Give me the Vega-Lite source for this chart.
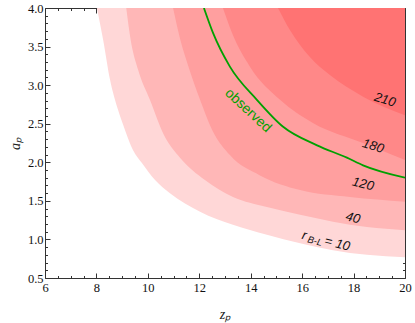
{
  "$schema": "https://vega.github.io/schema/vega-lite/v6.json",
  "width": 360,
  "height": 270,
  "autosize": "none",
  "padding": {"left": 45, "top": 8, "right": 10, "bottom": 45},
  "background": "white",
  "config": {
    "view": {"stroke": "#333333", "strokeWidth": 1},
    "axis": {"labelFont": "Liberation Serif, Times New Roman, serif", "titleFont": "Liberation Serif, Times New Roman, serif"}
  },
  "datasets": {
    "contours": [
      {"r": 10, "z": 8.02, "a": 4.0}, {"r": 10, "z": 8.26, "a": 3.59}, {"r": 10, "z": 8.53, "a": 3.07}, {"r": 10, "z": 8.84, "a": 2.68}, {"r": 10, "z": 9.11, "a": 2.42}, {"r": 10, "z": 9.42, "a": 2.16}, {"r": 10, "z": 9.77, "a": 1.99}, {"r": 10, "z": 10.28, "a": 1.77}, {"r": 10, "z": 10.86, "a": 1.6}, {"r": 10, "z": 12.03, "a": 1.36}, {"r": 10, "z": 13.31, "a": 1.19}, {"r": 10, "z": 14.63, "a": 1.06}, {"r": 10, "z": 15.92, "a": 0.95}, {"r": 10, "z": 17.2, "a": 0.86}, {"r": 10, "z": 18.52, "a": 0.8}, {"r": 10, "z": 20.0, "a": 0.77},
      {"r": 40, "z": 9.16, "a": 4.0}, {"r": 40, "z": 9.33, "a": 3.59}, {"r": 40, "z": 9.62, "a": 3.2}, {"r": 40, "z": 10.08, "a": 2.81}, {"r": 40, "z": 10.63, "a": 2.35}, {"r": 40, "z": 11.25, "a": 2.06}, {"r": 40, "z": 12.22, "a": 1.77}, {"r": 40, "z": 13.31, "a": 1.55}, {"r": 40, "z": 14.63, "a": 1.42}, {"r": 40, "z": 15.92, "a": 1.32}, {"r": 40, "z": 17.2, "a": 1.23}, {"r": 40, "z": 18.52, "a": 1.16}, {"r": 40, "z": 20.0, "a": 1.12},
      {"r": 120, "z": 10.98, "a": 4.0}, {"r": 120, "z": 11.27, "a": 3.58}, {"r": 120, "z": 11.58, "a": 3.24}, {"r": 120, "z": 12.03, "a": 2.81}, {"r": 120, "z": 12.5, "a": 2.42}, {"r": 120, "z": 13.2, "a": 2.09}, {"r": 120, "z": 14.36, "a": 1.83}, {"r": 120, "z": 15.92, "a": 1.64}, {"r": 120, "z": 17.86, "a": 1.55}, {"r": 120, "z": 20.0, "a": 1.49},
      {"r": 180, "z": 12.92, "a": 4.0}, {"r": 180, "z": 13.27, "a": 3.68}, {"r": 180, "z": 13.97, "a": 3.24}, {"r": 180, "z": 15.14, "a": 2.81}, {"r": 180, "z": 16.42, "a": 2.51}, {"r": 180, "z": 18.37, "a": 2.25}, {"r": 180, "z": 20.0, "a": 2.03},
      {"r": 210, "z": 15.06, "a": 4.0}, {"r": 210, "z": 15.53, "a": 3.71}, {"r": 210, "z": 16.31, "a": 3.36}, {"r": 210, "z": 17.08, "a": 3.13}, {"r": 210, "z": 18.37, "a": 2.85}, {"r": 210, "z": 20.0, "a": 2.61}
    ],
    "observed": [
      {"z": 12.18, "a": 4.0}, {"z": 12.53, "a": 3.68}, {"z": 13.19, "a": 3.24}, {"z": 14.24, "a": 2.81}, {"z": 15.26, "a": 2.46}, {"z": 16.58, "a": 2.22}, {"z": 17.74, "a": 2.06}, {"z": 18.37, "a": 1.96}, {"z": 20.0, "a": 1.8}
    ],
    "labels": [
      {"t": "210", "z": 19.22, "a": 2.81},
      {"t": "180", "z": 18.76, "a": 2.21},
      {"t": "120", "z": 18.37, "a": 1.72},
      {"t": "40", "z": 17.98, "a": 1.28},
      {"t": "r", "z": 16.0, "a": 1.06},
      {"t": "B-L", "z": 16.22, "a": 1.0},
      {"t": "= 10", "z": 16.88, "a": 0.985},
      {"t": "observed", "z": 13.9, "a": 2.67}
    ]
  },
  "resolve": {"axis": {"x": "independent", "y": "independent"}},
  "layer": [
    {
      "data": {"name": "contours"},
      "transform": [{"filter": "datum.r == 10"}],
      "mark": {"type": "area", "color": "#ffd7d7", "interpolate": "monotone", "clip": true},
      "encoding": {
        "x": {"field": "z", "type": "quantitative", "scale": {"domain": [6, 20], "nice": false, "zero": false},
          "axis": {"orient": "bottom", "values": [6,6.5,7,7.5,8,8.5,9,9.5,10,10.5,11,11.5,12,12.5,13,13.5,14,14.5,15,15.5,16,16.5,17,17.5,18,18.5,19,19.5,20],
            "labelExpr": "datum.value % 2 === 0 ? format(datum.value, 'd') : ''",
            "tickSize": {"condition": {"test": "datum.value % 2 === 0", "value": -5}, "value": -2.5},
            "tickColor": "#333333", "domain": false, "grid": false, "labelOverlap": false, "labelFlush": false,
            "labelFont": "Liberation Serif, Times New Roman, serif", "labelFontSize": 12.5, "labelColor": "#111111", "labelPadding": 8,
            "title": "zₚ", "titleFont": "Liberation Serif, Times New Roman, serif", "titleFontStyle": "italic", "titleFontWeight": "normal", "titleFontSize": 14, "titleColor": "#222222", "titlePadding": 11}},
        "y": {"field": "a", "type": "quantitative", "scale": {"domain": [0.5, 4], "nice": false, "zero": false},
          "axis": {"orient": "left", "values": [0.5,0.6,0.7,0.8,0.9,1.0,1.1,1.2,1.3,1.4,1.5,1.6,1.7,1.8,1.9,2.0,2.1,2.2,2.3,2.4,2.5,2.6,2.7,2.8,2.9,3.0,3.1,3.2,3.3,3.4,3.5,3.6,3.7,3.8,3.9,4.0],
            "labelExpr": "abs(datum.value*2 - round(datum.value*2)) < 0.001 ? format(datum.value, '.1f') : ''",
            "tickSize": {"condition": {"test": "abs(datum.value*2 - round(datum.value*2)) < 0.001", "value": -5}, "value": -2.5},
            "tickColor": "#333333", "domain": false, "grid": false, "labelOverlap": false, "labelFlush": false,
            "labelFont": "Liberation Serif, Times New Roman, serif", "labelFontSize": 12.5, "labelColor": "#111111", "labelPadding": 7,
            "title": "aₚ", "titleFont": "Liberation Serif, Times New Roman, serif", "titleFontStyle": "italic", "titleFontWeight": "normal", "titleFontSize": 14, "titleColor": "#222222", "titlePadding": 5}},
        "y2": {"datum": 4}
      }
    },
    {
      "data": {"name": "contours"},
      "transform": [{"filter": "datum.r == 40"}],
      "mark": {"type": "area", "color": "#ffb7b7", "interpolate": "monotone", "clip": true},
      "encoding": {"x": {"field": "z", "type": "quantitative", "axis": null}, "y": {"field": "a", "type": "quantitative", "axis": null}, "y2": {"datum": 4}}
    },
    {
      "data": {"name": "contours"},
      "transform": [{"filter": "datum.r == 120"}],
      "mark": {"type": "area", "color": "#ff9f9f", "interpolate": "monotone", "clip": true},
      "encoding": {"x": {"field": "z", "type": "quantitative", "axis": null}, "y": {"field": "a", "type": "quantitative", "axis": null}, "y2": {"datum": 4}}
    },
    {
      "data": {"name": "contours"},
      "transform": [{"filter": "datum.r == 180"}],
      "mark": {"type": "area", "color": "#ff8888", "interpolate": "monotone", "clip": true},
      "encoding": {"x": {"field": "z", "type": "quantitative", "axis": null}, "y": {"field": "a", "type": "quantitative", "axis": null}, "y2": {"datum": 4}}
    },
    {
      "data": {"name": "contours"},
      "transform": [{"filter": "datum.r == 210"}],
      "mark": {"type": "area", "color": "#ff7373", "interpolate": "monotone", "clip": true},
      "encoding": {"x": {"field": "z", "type": "quantitative", "axis": null}, "y": {"field": "a", "type": "quantitative", "axis": null}, "y2": {"datum": 4}}
    },
    {
      "data": {"name": "observed"},
      "mark": {"type": "line", "color": "#00a000", "strokeWidth": 1.8, "interpolate": "monotone", "clip": true},
      "encoding": {
        "x": {"field": "z", "type": "quantitative",
          "axis": {"orient": "top", "values": [6,6.5,7,7.5,8,8.5,9,9.5,10,10.5,11,11.5,12,12.5,13,13.5,14,14.5,15,15.5,16,16.5,17,17.5,18,18.5,19,19.5,20],
            "labels": false, "title": null, "domain": false, "grid": false, "tickColor": "#333333",
            "tickSize": {"condition": {"test": "datum.value % 2 === 0", "value": -5}, "value": -2.5}}},
        "y": {"field": "a", "type": "quantitative",
          "axis": {"orient": "right", "values": [0.5,0.6,0.7,0.8,0.9,1.0,1.1,1.2,1.3,1.4,1.5,1.6,1.7,1.8,1.9,2.0,2.1,2.2,2.3,2.4,2.5,2.6,2.7,2.8,2.9,3.0,3.1,3.2,3.3,3.4,3.5,3.6,3.7,3.8,3.9,4.0],
            "labels": false, "title": null, "domain": false, "grid": false, "tickColor": "#333333",
            "tickSize": {"condition": {"test": "abs(datum.value*2 - round(datum.value*2)) < 0.001", "value": -5}, "value": -2.5}}}
      }
    },
    {
      "data": {"name": "labels"},
      "transform": [{"filter": "datum.t == '210' || datum.t == '180'"}],
      "mark": {"type": "text", "font": "Liberation Sans", "fontStyle": "italic", "fontSize": 13, "color": "#111111", "angle": 17, "align": "center", "baseline": "middle"},
      "encoding": {"x": {"field": "z", "type": "quantitative", "axis": null}, "y": {"field": "a", "type": "quantitative", "axis": null}, "text": {"field": "t"}}
    },
    {
      "data": {"name": "labels"},
      "transform": [{"filter": "datum.t == '120' || datum.t == '40'"}],
      "mark": {"type": "text", "font": "Liberation Sans", "fontStyle": "italic", "fontSize": 13, "color": "#111111", "angle": 14, "align": "center", "baseline": "middle"},
      "encoding": {"x": {"field": "z", "type": "quantitative", "axis": null}, "y": {"field": "a", "type": "quantitative", "axis": null}, "text": {"field": "t"}}
    },
    {
      "data": {"name": "labels"},
      "transform": [{"filter": "datum.t == 'r' || datum.t == '= 10'"}],
      "mark": {"type": "text", "font": "Liberation Sans", "fontStyle": "italic", "fontSize": 13, "color": "#111111", "angle": 14, "align": "left", "baseline": "middle"},
      "encoding": {"x": {"field": "z", "type": "quantitative", "axis": null}, "y": {"field": "a", "type": "quantitative", "axis": null}, "text": {"field": "t"}}
    },
    {
      "data": {"name": "labels"},
      "transform": [{"filter": "datum.t == 'B-L'"}],
      "mark": {"type": "text", "font": "Liberation Sans", "fontStyle": "italic", "fontSize": 9.5, "color": "#111111", "angle": 14, "align": "left", "baseline": "middle"},
      "encoding": {"x": {"field": "z", "type": "quantitative", "axis": null}, "y": {"field": "a", "type": "quantitative", "axis": null}, "text": {"field": "t"}}
    },
    {
      "data": {"name": "labels"},
      "transform": [{"filter": "datum.t == 'observed'"}],
      "mark": {"type": "text", "font": "Liberation Sans", "fontSize": 14, "color": "#00a000", "angle": 43, "align": "center", "baseline": "middle"},
      "encoding": {"x": {"field": "z", "type": "quantitative", "axis": null}, "y": {"field": "a", "type": "quantitative", "axis": null}, "text": {"field": "t"}}
    }
  ]
}
